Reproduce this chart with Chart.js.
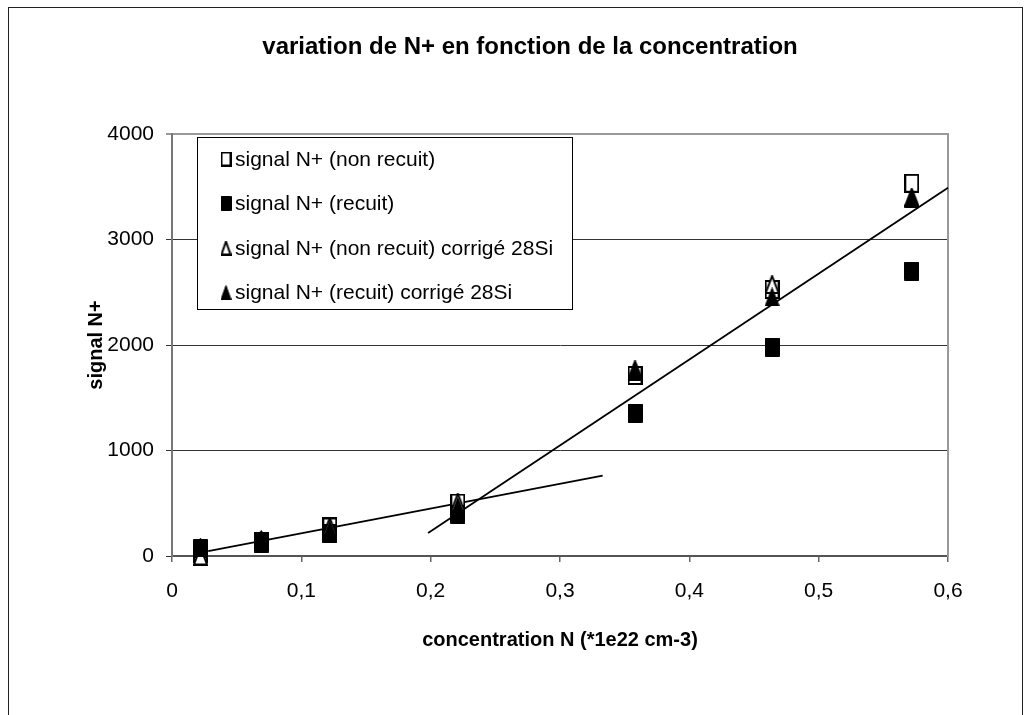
<!DOCTYPE html>
<html><head><meta charset="utf-8">
<script src="https://cdn.jsdelivr.net/npm/chart.js@4.4.1/dist/chart.umd.min.js"></script>
<style>html,body{margin:0;padding:0;background:#fff}#wrap{width:1030px;height:715px;position:relative}</style>
</head><body><div id="wrap"><canvas id="c" width="1030" height="715"></canvas></div>
<script>
// ---- data ----
const concentration = [0.022, 0.069, 0.122, 0.221, 0.358, 0.464, 0.572];
const signalNonRecuit = [20, 135, 275, 502, 1711, 2526, 3533];
const signalRecuit = [70, 123, 210, 398, 1355, 1981, 2701];
const signalNonRecuitCorrige = [0, 145, 280, 510, 1765, 2573, 3400];
const signalRecuitCorrige = [85, 156, 250, 470, 1752, 2455, 3390];
const trendLowX = [0.028, 0.333];
const trendLowY = [47, 761];
const trendHighX = [0.198, 0.6];
const trendHighY = [218, 3491];
const xTickValues = [0, 0.1, 0.2, 0.3, 0.4, 0.5, 0.6];
const xTickLabels = ['0', '0,1', '0,2', '0,3', '0,4', '0,5', '0,6'];
const yTickValues = [0, 1000, 2000, 3000, 4000];
const yTickLabels = ['0', '1000', '2000', '3000', '4000'];
const seriesLabels = ['signal N+ (non recuit)', 'signal N+ (recuit)', 'signal N+ (non recuit) corrigé 28Si', 'signal N+ (recuit) corrigé 28Si'];
const chartTitle = 'variation de N+ en fonction de la concentration';
const xTitle = 'concentration N (*1e22 cm-3)';
const yTitle = 'signal N+';

const FONT = '"Liberation Sans", Arial, sans-serif';

function makeMarker(shape, filled, w, h, lw) {
  const c = document.createElement('canvas');
  c.width = w; c.height = h;
  const g = c.getContext('2d');
  const i = lw / 2;
  g.beginPath();
  if (shape === 'square') {
    g.rect(i, i, w - lw, h - lw);
  } else {
    g.moveTo(w / 2, i);
    g.lineTo(w - i, h - i);
    g.lineTo(i, h - i);
    g.closePath();
  }
  g.fillStyle = filled ? '#000' : '#fff';
  g.fill();
  g.lineWidth = lw;
  g.strokeStyle = '#000';
  g.lineJoin = 'miter';
  g.stroke();
  return c;
}
const plotMarkers = [
  makeMarker('square', false, 15, 19, 2),
  makeMarker('square', true, 15, 19, 1),
  makeMarker('triangle', false, 15, 19, 2),
  makeMarker('triangle', true, 15, 19, 1)
];
const legendMarkers = [
  makeMarker('square', false, 11, 15, 2),
  makeMarker('square', true, 11, 15, 1),
  makeMarker('triangle', false, 11, 15, 2),
  makeMarker('triangle', true, 11, 15, 1)
];

function pts(xs, ys) { return xs.map((x, i) => ({x: x, y: ys[i]})); }
const seriesValues = [signalNonRecuit, signalRecuit, signalNonRecuitCorrige, signalRecuitCorrige];

const datasets = seriesValues.map((vals, k) => ({
  label: seriesLabels[k],
  data: pts(concentration, vals),
  showLine: false,
  pointStyle: plotMarkers[k],
  pointRadius: 8,
  pointHoverRadius: 8,
  order: 4 - k,
  clip: false,
  xAxisID: 'x', yAxisID: 'y'
}));
datasets.push({
  label: 'trend1', data: pts(trendLowX, trendLowY), showLine: true, pointRadius: 0,
  borderColor: '#000', borderWidth: 1.8, order: 5, xAxisID: 'x', yAxisID: 'y'
});
datasets.push({
  label: 'trend2', data: pts(trendHighX, trendHighY), showLine: true, pointRadius: 0,
  borderColor: '#000', borderWidth: 1.8, order: 6, clip: false, xAxisID: 'x', yAxisID: 'y'
});

const framePlugin = {
  id: 'frame',
  beforeDraw(chart) {
    const ctx = chart.ctx;
    ctx.save();
    ctx.strokeStyle = '#222';
    ctx.lineWidth = 1;
    ctx.strokeRect(8.5, 7.5, 1014, 730);
    ctx.restore();
  }
};

const legendPlugin = {
  id: 'boxLegend',
  afterDraw(chart) {
    const ctx = chart.ctx;
    const bx = 197.5, by = 137.5, bw = 375, bh = 172;
    ctx.save();
    ctx.fillStyle = '#fff';
    ctx.fillRect(bx, by, bw, bh);
    ctx.strokeStyle = '#000';
    ctx.lineWidth = 1;
    ctx.strokeRect(bx, by, bw, bh);
    ctx.font = '21px ' + FONT;
    ctx.fillStyle = '#000';
    ctx.textBaseline = 'middle';
    ctx.textAlign = 'left';
    const rowY = [159, 203.5, 248, 292.5];
    seriesLabels.forEach((lab, k) => {
      const m = legendMarkers[k];
      ctx.drawImage(m, 226 - m.width / 2, rowY[k] - m.height / 2);
      ctx.fillText(lab, 235, rowY[k] + 1);
    });
    ctx.restore();
  }
};

new Chart(document.getElementById('c'), {
  type: 'scatter',
  data: {datasets: datasets},
  options: {
    responsive: false,
    devicePixelRatio: 1,
    animation: false,
    events: [],
    layout: {padding: {left: 30, right: 0, top: 0, bottom: 0}},
    plugins: {
      legend: {display: false},
      tooltip: {enabled: false},
      title: {
        display: true, text: chartTitle, color: '#000', fullSize: true,
        font: {family: FONT, size: 24, weight: 'bold', lineHeight: 1.2},
        padding: {top: 32.6, bottom: 72.6}
      }
    },
    scales: {
      x: {
        type: 'linear', position: 'bottom', min: 0, max: 0.6,
        afterBuildTicks(scale) { scale.ticks = xTickValues.map(v => ({value: v})); },
        afterFit(scale) { scale.height = 159; },
        ticks: {
          color: '#000', font: {family: FONT, size: 21}, padding: 17, maxRotation: 0, autoSkip: false,
          callback: (v, i) => xTickLabels[i]
        },
        grid: {drawOnChartArea: false, drawTicks: true, tickLength: 6, color: '#666', lineWidth: 1.5},
        border: {display: true, color: '#555', width: 2},
        title: {display: true, text: xTitle, color: '#000', font: {family: FONT, size: 20, weight: 'bold', lineHeight: 1.2}, padding: {top: 0, bottom: 62.4}}
      },
      y: {
        type: 'linear', position: 'left', min: 0, max: 4000,
        afterBuildTicks(scale) { scale.ticks = yTickValues.map(v => ({value: v})); },
        afterFit(scale) { scale.width = 142; },
        ticks: {
          color: '#000', font: {family: FONT, size: 21}, padding: 12,
          callback: (v, i) => yTickLabels[i]
        },
        grid: {
          drawTicks: true, tickLength: 6,
          color: c => (c.tick && c.tick.value === 4000) ? '#999' : '#333',
          lineWidth: c => (c.tick && c.tick.value === 4000) ? 2 : 1
        },
        border: {display: true, color: '#777', width: 2},
        title: {display: true, text: yTitle, color: '#000', font: {family: FONT, size: 20, weight: 'bold', lineHeight: 1.2}, padding: {top: 54.4, bottom: 0}}
      },
      y2: {
        type: 'linear', position: 'right', min: 0, max: 1,
        afterFit(scale) { scale.width = 82; },
        ticks: {display: false},
        grid: {display: false, drawTicks: false},
        border: {display: true, color: '#999', width: 2}
      }
    }
  },
  plugins: [framePlugin, legendPlugin]
});
</script>
</body></html>
